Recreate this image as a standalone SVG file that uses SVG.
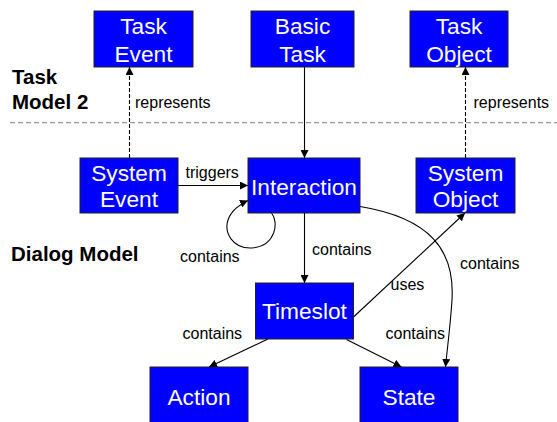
<svg xmlns="http://www.w3.org/2000/svg" width="557" height="422" viewBox="0 0 557 422">
<defs>
<marker id="arr" viewBox="0 0 10 10" refX="10" refY="5" markerWidth="8" markerHeight="8" markerUnits="userSpaceOnUse" orient="auto">
<path d="M0,0 L10,5 L0,10 Z" fill="#000"/>
</marker>
</defs>
<style>
.node rect{fill:#0000ff;stroke:#222;stroke-width:1}
.node text{fill:#fff;font-family:"Liberation Sans",Arial,sans-serif;font-size:22.7px;text-anchor:middle}
.edge{fill:none;stroke:#000;stroke-width:1.1;marker-end:url(#arr)}
.dash{stroke-dasharray:4 2}
.lbl{font-family:"Liberation Sans",Arial,sans-serif;font-size:16px;fill:#000}
.sec{font-family:"Liberation Sans",Arial,sans-serif;font-size:20.5px;font-weight:bold;fill:#000}
</style>
<rect width="557" height="422" fill="#fff"/>
<line x1="10" y1="122.7" x2="557" y2="122.7" stroke="#999" stroke-width="1.2" stroke-dasharray="5 3"/>
<text class="sec" x="12" y="84">Task</text>
<text class="sec" x="12" y="109">Model 2</text>
<text class="sec" x="11" y="260.5">Dialog Model</text>
<g id="connectors">
<path class="edge dash" d="M129.5 158 L129.5 67"/>
<path class="edge dash" d="M465.5 158 L465.5 67"/>
<path class="edge" d="M304.5 67 L304.5 158"/>
<path class="edge" d="M178 185.5 L248 185.5"/>
<path class="edge" d="M271.5 213 C279 222 276 246 252 248 C232 249 224 232 228 220 C231 211 240 204 248 200.5"/>
<path class="edge" d="M304.5 213 L304.5 283"/>
<path class="edge" d="M353.5 317 L465 213"/>
<path class="edge" d="M360 206.5 C430 218 455 250 452 300 C450 330 447 350 445.5 367"/>
<path class="edge" d="M268 339 L209 367"/>
<path class="edge" d="M346.5 339.5 L401.5 367"/>
<text class="lbl" x="135" y="107.5">represents</text>
<text class="lbl" x="473.5" y="107.5">represents</text>
<text class="lbl" x="185.5" y="177.5">triggers</text>
<text class="lbl" x="180" y="261.5">contains</text>
<text class="lbl" x="312" y="254.5">contains</text>
<text class="lbl" x="460" y="268.5">contains</text>
<text class="lbl" x="390.5" y="289.5">uses</text>
<text class="lbl" x="182.5" y="338.5">contains</text>
<text class="lbl" x="385.5" y="338.5">contains</text>
</g>
<g id="task-event" class="node"><rect x="94" y="11" width="99" height="56"/><text x="143.5" y="33.5">Task</text><text x="143.5" y="61.5">Event</text></g>
<g id="basic-task" class="node"><rect x="251" y="11" width="103" height="56"/><text x="302.5" y="33.5">Basic</text><text x="302.5" y="61.5">Task</text></g>
<g id="task-object" class="node"><rect x="410" y="11" width="98" height="56"/><text x="459" y="33.5">Task</text><text x="459" y="61.5">Object</text></g>
<g id="system-event" class="node"><rect x="80" y="158" width="98" height="55"/><text x="129" y="180.5">System</text><text x="129" y="206.5">Event</text></g>
<g id="interaction" class="node"><rect x="248" y="158" width="112" height="55"/><text x="304" y="194.5">Interaction</text></g>
<g id="system-object" class="node"><rect x="416" y="158" width="99" height="55"/><text x="465.5" y="180.5">System</text><text x="465.5" y="206.5">Object</text></g>
<g id="timeslot" class="node"><rect x="255.5" y="283" width="98" height="56"/><text x="304.5" y="319.3">Timeslot</text></g>
<g id="action" class="node"><rect x="150" y="367" width="98" height="57"/><text x="199" y="404.5">Action</text></g>
<g id="state" class="node"><rect x="360" y="367" width="98" height="57"/><text x="409" y="404.5">State</text></g>
</svg>
